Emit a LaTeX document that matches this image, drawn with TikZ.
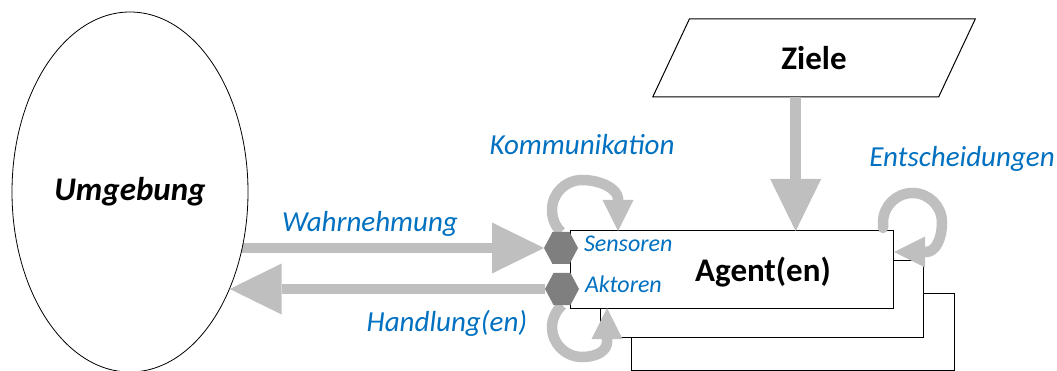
\documentclass[tikz,border=0pt]{standalone}
\usepackage{fontspec}
\setmainfont{Carlito}
\usetikzlibrary{arrows.meta,shapes.geometric,shapes.symbols,calc}
\definecolor{flow}{HTML}{BFBFBF}
\definecolor{port}{HTML}{7F7F7F}
\definecolor{note}{HTML}{0070C0}
\pgfdeclarelayer{back}
\pgfdeclarelayer{front}
\pgfsetlayers{back,main,front}

\begin{document}
\begin{tikzpicture}[x=1pt,y=-1pt,
  every node/.style={inner sep=0pt, outer sep=0pt},
  box/.style={draw=black, line width=1pt, fill=white, rectangle,
    minimum width=323pt, minimum height=77pt},
  portnode/.style={signal, signal to=west and east, signal pointer angle=124,
    fill=port, minimum width=34pt, minimum height=32pt},
  titlefont/.style={font=\fontsize{33}{37}\selectfont\bfseries},
  labelbig/.style={text=note, font=\fontsize{29}{33}\selectfont\itshape, anchor=base},
  labelsmall/.style={text=note, font=\fontsize{24}{28}\selectfont\itshape, anchor=base west},
  fatarrow/.style={draw=flow, line width=10.5pt,
    -{Triangle[length=52pt,width=51pt,line width=0pt]}},
  looparrow/.style={draw=flow, line width=10.5pt,
    -{Triangle[length=31pt,width=31pt,line width=0pt]}},
]
\useasboundingbox (0,0) rectangle (1057,371);

% environment
\node[ellipse, draw=black, line width=0.8pt, fill=white,
  minimum width=236pt, minimum height=360pt,
  font=\fontsize{33}{37}\selectfont\bfseries\itshape] (umg) at (130,192) {Umgebung};

% stacked agent boxes
\node[box] (agent3) at (792.5,331.5) {};
\node[box] (agent2) at (762,299) {};
\node[box] (agent) at (731.5,269.5) {};
\node[titlefont, anchor=base] (agentname) at (763,281) {Agent(en)};

% goals
\node[trapezium, trapezium left angle=67.7, trapezium right angle=112.3,
  trapezium stretches, draw=black, line width=1pt, fill=white,
  minimum width=324pt, minimum height=78pt, titlefont] (ziele) at (814,58) {Ziele};
\coordinate (zielefoot) at ($(ziele.bottom left corner)!0.5!(ziele.bottom right corner)$);

% sensor and actor ports
\begin{pgfonlayer}{front}
\node[portnode] (sens) at (561,248) {};
\node[portnode] (akt) at (562,289) {};
\end{pgfonlayer}

% labels
\node[labelsmall] (senslabel) at (584,252) {Sensoren};
\node[labelsmall] (aktlabel) at (585,293) {Aktoren};
\node[labelbig] (kommlabel) at (582,155) {Kommunikation};
\node[labelbig] (wahrlabel) at (370,232) {Wahrnehmung};
\node[labelbig] (handlabel) at (447,331) {Handlung(en)};
\node[labelbig] (entlabel) at (962,167) {Entscheidungen};

% perception and action
\begin{pgfonlayer}{back}
\draw[fatarrow] (sens.west -| umg.center) -- (sens.west);
\end{pgfonlayer}
\draw[fatarrow] (akt.west) -- (akt.west -| umg.-44);

% goals feed the agent
\draw[fatarrow] (zielefoot) -- (zielefoot |- agent.north);

% communication loop (round, clockwise over the top)
\draw[looparrow] (sens.north)
  .. controls ($(sens.north)+(-6,-6)$) and ($(sens.north)+(-9,-14)$) .. ($(sens.north)+(-9,-22)$)
  .. controls ($(sens.north)+(-9,-38.6)$) and ($(sens.north)+(4.4,-52)$) .. ($(sens.north)+(21,-52)$)
  .. controls ($(sens.north)+(40,-52)$) and ($(sens.north)+(57,-43)$) .. ($(sens.north)+(57,-33)$)
  -- ($(agent.north west)+(48,0)$);

% action loop (round, counter-clockwise under the bottom)
\draw[looparrow] (akt.south)
  .. controls ($(akt.south)+(-6,6)$) and ($(akt.south)+(-10,14)$) .. ($(akt.south)+(-10,22)$)
  .. controls ($(akt.south)+(-10,38.6)$) and ($(akt.south)+(3.4,52)$) .. ($(akt.south)+(20,52)$)
  .. controls ($(akt.south)+(36,52)$) and ($(akt.south)+(45,45)$) .. ($(akt.south)+(45,37)$)
  -- ($(agent.south west)+(37,0)$);

% decision loop
\draw[looparrow, line cap=round] ($(agent.north east)+(-10,-3)$)
  -- ($(agent.north east)+(-10,-8.5)$)
  .. controls ($(agent.north east)+(-10,-24.8)$) and ($(agent.north east)+(3.2,-38)$) .. ($(agent.north east)+(19.5,-38)$)
  .. controls ($(agent.north east)+(35.8,-38)$) and ($(agent.north east)+(49,-24.8)$) .. ($(agent.north east)+(49,-8.5)$)
  .. controls ($(agent.north east)+(49,7)$) and ($(agent.north east)+(43,21)$) .. ($(agent.north east)+(33,21)$)
  -- ($(agent.north east)+(1,21)$);

\end{tikzpicture}
\end{document}
